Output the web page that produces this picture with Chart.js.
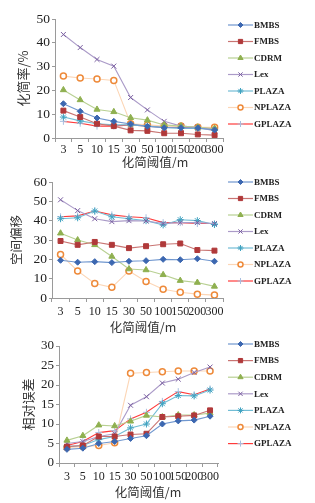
<!DOCTYPE html>
<html><head><meta charset="utf-8">
<script src="https://cdn.jsdelivr.net/npm/chart.js@4.4.1/dist/chart.umd.min.js"></script>
<style>
html,body{margin:0;padding:0;background:#fff;}
canvas{display:block;}
</style></head>
<body>
<canvas id="c1" width="315" height="168"></canvas>
<canvas id="c2" width="315" height="168"></canvas>
<canvas id="c3" width="315" height="167"></canvas>
<script>
const categories = ['3','5','10','15','30','50','100','150','200','300'];
const seriesNames = ['BMBS','FMBS','CDRM','Lex','PLAZA','NPLAZA','GPLAZA'];
const xTitle = '化简阈值/m';

// Chart 1: 化简率/%
const rate_BMBS   = [14.4, 11.2, 8.4, 7.0, 5.9, 4.9, 4.3, 4.3, 4.2, 3.4];
const rate_FMBS   = [11.5, 8.8, 6.0, 5.0, 3.2, 3.0, 2.0, 2.0, 1.5, 1.2];
const rate_CDRM   = [20.2, 16.0, 12.0, 11.0, 8.5, 7.5, 5.5, 5.0, 4.5, 4.0];
const rate_Lex    = [43.5, 38.0, 33.0, 30.2, 17.0, 11.8, 7.0, 5.0, 4.5, 3.0];
const rate_PLAZA  = [8.8, 7.2, 6.0, 5.5, 5.5, 5.0, 4.5, 4.0, 4.0, 3.5];
const rate_NPLAZA = [26.0, 25.2, 24.8, 24.2, 6.0, 5.5, 5.0, 5.0, 4.5, 4.5];
const rate_GPLAZA = [7.0, 6.2, 5.0, 5.0, 5.5, 5.0, 4.5, 4.5, 4.5, 4.0];

// Chart 2: 空间偏移
const off_BMBS   = [19.5, 18.5, 18.8, 18.3, 19.0, 19.3, 20.0, 19.8, 20.3, 19.0];
const off_FMBS   = [29.5, 27.5, 29.0, 27.5, 25.8, 26.8, 27.8, 28.2, 24.8, 24.5];
const off_CDRM   = [33.5, 30.0, 27.5, 21.5, 15.0, 14.5, 12.0, 9.0, 8.0, 6.0];
const off_Lex    = [50.8, 45.2, 41.0, 39.5, 40.0, 39.8, 38.5, 39.0, 39.0, 38.5];
const off_PLAZA  = [41.0, 41.5, 45.0, 42.0, 41.0, 40.0, 37.8, 40.5, 40.0, 38.0];
const off_NPLAZA = [22.5, 14.0, 7.5, 5.5, 14.0, 8.5, 4.5, 3.0, 2.0, 1.5];
const off_GPLAZA = [42.0, 42.5, 45.0, 43.0, 42.0, 41.5, 39.0, 39.0, 38.5, 38.5];

// Chart 3: 相对误差
const err_BMBS   = [3.5, 3.8, 5.0, 5.5, 6.3, 7.0, 10.0, 10.8, 11.0, 12.0];
const err_FMBS   = [4.2, 4.5, 6.8, 6.8, 7.3, 7.5, 11.8, 12.0, 12.2, 13.5];
const err_CDRM   = [5.8, 7.0, 9.7, 9.5, 10.7, 12.2, 11.8, 12.3, 12.3, 12.8];
const err_Lex    = [5.0, 5.5, 6.8, 7.5, 14.8, 17.0, 20.5, 21.5, 23.2, 24.6];
const err_PLAZA  = [4.2, 4.5, 6.0, 6.8, 9.0, 10.0, 15.2, 17.3, 17.2, 18.7];
const err_NPLAZA = [4.0, 4.2, 4.5, 5.2, 23.0, 23.2, 23.4, 23.6, 23.6, 23.6];
const err_GPLAZA = [4.5, 5.5, 7.8, 8.3, 11.3, 13.0, 15.8, 18.3, 17.5, 19.0];

const styles = [
  {line:'#7097cf', pt:'#3c67b0', ptb:'#3c67b0', style:'rectRot', r:3},
  {line:'#c97472', pt:'#b0393a', ptb:'#b0393a', style:'rect', r:3.5},
  {line:'#b8d092', pt:'#8fb050', ptb:'#8fb050', style:'triangle', r:3.5},
  {line:'#ab9bc8', pt:'#7a5fa0', ptb:'#7a5fa0', style:'crossRot', r:3.5},
  {line:'#72bdd5', pt:'#3fa2c0', ptb:'#3fa2c0', style:'star', r:3.5},
  {line:'#fcd6b6', pt:'#ffffff', ptb:'#ee8a3a', style:'circle', r:3},
  {line:'#ff3a3a', pt:'#a8bfe0', ptb:'#a8bfe0', style:'cross', r:3.5}
];

const FONT = '"Liberation Serif", "Times New Roman", serif';
const CJK = '"Noto Sans CJK SC", "Liberation Serif", serif';

function makeDatasets(arrs){
  return arrs.map((d,i)=>({
    label: seriesNames[i], data: d,
    borderColor: styles[i].line, borderWidth: 1.1,
    pointStyle: styles[i].style, pointRadius: styles[i].r,
    pointBackgroundColor: styles[i].pt, pointBorderColor: styles[i].ptb,
    pointBorderWidth: styles[i].style==='circle'?1.5:1,
    tension: 0, fill:false
  }));
}

const legendPlugin = {
  id:'customLegend',
  afterDraw(chart, args, opts){
    const ctx = chart.ctx;
    ctx.save();
    chart.data.datasets.forEach((ds,i)=>{
      const y = opts.y0 + i*opts.dy;
      const x0 = opts.x0;
      ctx.strokeStyle = ds.borderColor; ctx.lineWidth = 1.2;
      ctx.beginPath(); ctx.moveTo(x0,y); ctx.lineTo(x0+25,y); ctx.stroke();
      ctx.fillStyle = ds.pointBackgroundColor; ctx.strokeStyle = ds.pointBorderColor;
      ctx.lineWidth = ds.pointBorderWidth;
      Chart.helpers.drawPoint(ctx, {pointStyle: ds.pointStyle, radius: ds.pointRadius-0.5, rotation:0, borderWidth: ds.pointBorderWidth}, x0+12.5, y);
      ctx.fillStyle = '#222';
      ctx.font = 'bold 9px ' + FONT;
      ctx.textBaseline = 'middle'; ctx.textAlign='left';
      ctx.fillText(ds.label, x0+26, y+0.5);
    });
    // x axis title
    ctx.fillStyle = '#333';
    ctx.font = '12.5px ' + CJK;
    ctx.textAlign = 'center'; ctx.textBaseline = 'middle';
    ctx.fillText(xTitle, opts.tx, opts.ty);
    ctx.restore();
  }
};

function makeChart(id, arrs, cfg){
  new Chart(document.getElementById(id), {
    type:'line',
    data:{labels:categories, datasets:makeDatasets(arrs)},
    plugins:[legendPlugin],
    options:{
      responsive:false, animation:false,
      layout:{padding:{top:cfg.top, right:315-cfg.right, left:0, bottom:0}},
      plugins:{legend:{display:false}, tooltip:{enabled:false},
        customLegend:{x0:228, y0:cfg.legY, dy:cfg.legDy, tx:cfg.tx, ty:cfg.ty}},
      scales:{
        x:{
          offset:true,
          afterFit:(s)=>{s.height = cfg.xH;},
          grid:{display:true, drawOnChartArea:false, offset:true, tickLength:4, color:'#9a9a9a'},
          border:{color:'#9a9a9a'},
          ticks:{autoSkip:false, maxRotation:0, minRotation:0, padding:cfg.xtPad, color:'#222', font:{family:FONT, size:12}},
          title:{display:false}
        },
        y:{
          min:0, max:cfg.max,
          afterFit:(s)=>{s.width = cfg.left;},
          ticks:{stepSize:cfg.step, padding:2, color:'#222', font:{family:FONT, size:cfg.ytkSize}},
          grid:{display:true, drawOnChartArea:false, tickLength:3, color:'#9a9a9a'},
          border:{color:'#9a9a9a'},
          title:{display:true, text:cfg.ytitle, color:'#333', font:{family:CJK, size:cfg.ytSize}, padding:{top:cfg.yTitlePad, bottom:0}}
        }
      }
    }
  });
}

makeChart('c1', [rate_BMBS,rate_FMBS,rate_CDRM,rate_Lex,rate_PLAZA,rate_NPLAZA,rate_GPLAZA],
  {top:19, right:223, left:55, xH:30, max:50, step:10, ytitle:'化简率/%', ytSize:13, yTitlePad:15, legY:25, legDy:16.5, ytkSize:13.5, xtPad:1, tx:155, ty:162});
makeChart('c2', [off_BMBS,off_FMBS,off_CDRM,off_Lex,off_PLAZA,off_NPLAZA,off_GPLAZA],
  {top:14, right:223, left:52, xH:38, max:60, step:10, ytitle:'空间偏移', ytSize:12.5, yTitlePad:9, legY:14, legDy:16.5, ytkSize:13.5, xtPad:3, tx:143, ty:159});
makeChart('c3', [err_BMBS,err_FMBS,err_CDRM,err_Lex,err_PLAZA,err_NPLAZA,err_GPLAZA],
  {top:10, right:218, left:59, xH:40, max:30, step:5, ytitle:'相对误差', ytSize:13, yTitlePad:20, legY:8, legDy:16.6, ytkSize:13, xtPad:3, tx:148, ty:156});
</script>
</body></html>
